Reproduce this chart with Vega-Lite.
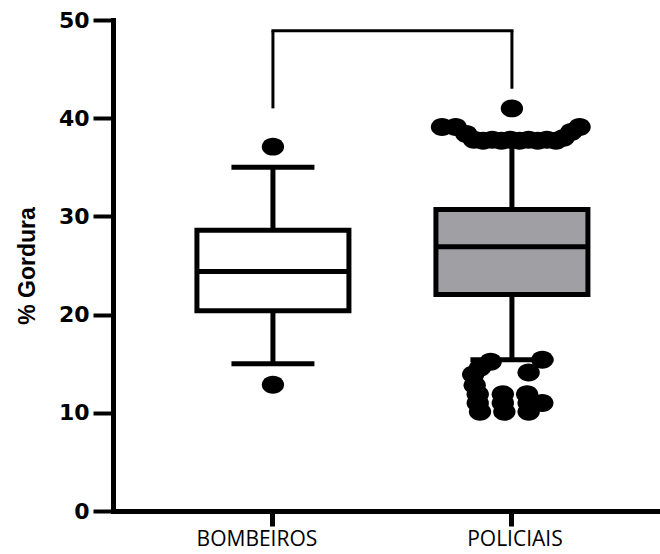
{
  "$schema": "https://vega.github.io/schema/vega-lite/v6.json",
  "width": 547,
  "height": 491,
  "autosize": {"type": "none"},
  "padding": {"left": 113, "top": 20, "right": 0, "bottom": 43},
  "background": "white",
  "config": {
    "view": {"stroke": null},
    "axis": {"grid": false, "domainColor": "black", "tickColor": "black", "labelColor": "black", "titleColor": "black"}
  },
  "datasets": {
    "boxes": [
      {"grupo": "BOMBEIROS", "min": 15.0, "q1": 20.4, "median": 24.4, "q3": 28.6, "max": 35.0},
      {"grupo": "POLICIAIS", "min": 15.4, "q1": 22.05, "median": 26.9, "q3": 30.7, "max": 37.8}
    ],
    "outliers": [
      {"grupo": "BOMBEIROS", "valor": 37.1, "jitter": 0},
      {"grupo": "BOMBEIROS", "valor": 12.85, "jitter": 0},
      {"grupo": "POLICIAIS", "valor": 41.0, "jitter": 0},
      {"grupo": "POLICIAIS", "valor": 39.1, "jitter": -0.92},
      {"grupo": "POLICIAIS", "valor": 39.1, "jitter": -0.74},
      {"grupo": "POLICIAIS", "valor": 39.1, "jitter": 0.89},
      {"grupo": "POLICIAIS", "valor": 38.6, "jitter": 0.78},
      {"grupo": "POLICIAIS", "valor": 38.4, "jitter": -0.6},
      {"grupo": "POLICIAIS", "valor": 37.8, "jitter": -0.5},
      {"grupo": "POLICIAIS", "valor": 37.7, "jitter": -0.38},
      {"grupo": "POLICIAIS", "valor": 37.8, "jitter": -0.26},
      {"grupo": "POLICIAIS", "valor": 37.7, "jitter": -0.14},
      {"grupo": "POLICIAIS", "valor": 37.8, "jitter": -0.02},
      {"grupo": "POLICIAIS", "valor": 37.7, "jitter": 0.1},
      {"grupo": "POLICIAIS", "valor": 37.8, "jitter": 0.22},
      {"grupo": "POLICIAIS", "valor": 37.7, "jitter": 0.34},
      {"grupo": "POLICIAIS", "valor": 37.8, "jitter": 0.46},
      {"grupo": "POLICIAIS", "valor": 37.7, "jitter": 0.58},
      {"grupo": "POLICIAIS", "valor": 38.0, "jitter": 0.68},
      {"grupo": "POLICIAIS", "valor": 15.2, "jitter": -0.28},
      {"grupo": "POLICIAIS", "valor": 15.4, "jitter": 0.4},
      {"grupo": "POLICIAIS", "valor": 14.6, "jitter": -0.42},
      {"grupo": "POLICIAIS", "valor": 13.9, "jitter": -0.51},
      {"grupo": "POLICIAIS", "valor": 14.1, "jitter": 0.22},
      {"grupo": "POLICIAIS", "valor": 12.8, "jitter": -0.49},
      {"grupo": "POLICIAIS", "valor": 11.9, "jitter": -0.45},
      {"grupo": "POLICIAIS", "valor": 11.9, "jitter": -0.12},
      {"grupo": "POLICIAIS", "valor": 11.9, "jitter": 0.2},
      {"grupo": "POLICIAIS", "valor": 11.0, "jitter": -0.45},
      {"grupo": "POLICIAIS", "valor": 11.0, "jitter": -0.12},
      {"grupo": "POLICIAIS", "valor": 11.0, "jitter": 0.22},
      {"grupo": "POLICIAIS", "valor": 11.0, "jitter": 0.4},
      {"grupo": "POLICIAIS", "valor": 10.1, "jitter": -0.42},
      {"grupo": "POLICIAIS", "valor": 10.1, "jitter": -0.1},
      {"grupo": "POLICIAIS", "valor": 10.1, "jitter": 0.22}
    ],
    "bracket": [
      {"grupo": "BOMBEIROS", "baixo": 41.0, "topo": 48.9},
      {"grupo": "POLICIAIS", "baixo": 43.0, "topo": 48.9}
    ],
    "barra": [
      {"de": "BOMBEIROS", "ate": "POLICIAIS", "topo": 48.9}
    ]
  },
  "encoding": {
    "x": {
      "field": "grupo",
      "type": "nominal",
      "title": null,
      "scale": {"domain": ["BOMBEIROS", "POLICIAIS"], "paddingInner": 0.364, "paddingOuter": 0.3264, "align": 0.538},
      "axis": {
        "domainWidth": 5, "domainCap": "square", "tickWidth": 5, "tickSize": 15,
        "labelFont": "Open Sans", "labelFontSize": 21, "labelPadding": 2, "labelAngle": 0,
        "labelOffset": {"expr": "datum.value === 'BOMBEIROS' ? -16 : 3"}
      }
    }
  },
  "layer": [
    {
      "data": {"name": "boxes"},
      "mark": {"type": "rule", "color": "black", "strokeWidth": 5},
      "encoding": {
        "y": {
          "field": "min", "type": "quantitative", "title": "% Gordura",
          "scale": {"domain": [0, 50], "nice": false, "zero": true},
          "axis": {
            "values": [0, 10, 20, 30, 40, 50], "domainWidth": 5, "domainCap": "square", "tickWidth": 4, "tickSize": 20,
            "labelFont": "DejaVu Sans", "labelFontWeight": "bold", "labelFontSize": 22, "labelPadding": 4,
            "titleFont": "Liberation Sans", "titleFontWeight": "bold", "titleFontSize": 23, "titlePadding": 19
          }
        },
        "y2": {"field": "max"}
      }
    },
    {
      "data": {"name": "boxes"},
      "mark": {"type": "tick", "color": "black", "size": 83, "thickness": 5, "orient": "horizontal", "opacity": 1},
      "encoding": {"y": {"field": "min", "type": "quantitative", "title": "% Gordura"}}
    },
    {
      "data": {"name": "boxes"},
      "mark": {"type": "tick", "color": "black", "size": 83, "thickness": 5, "orient": "horizontal", "opacity": 1},
      "encoding": {"y": {"field": "max", "type": "quantitative", "title": "% Gordura"}}
    },
    {
      "data": {"name": "boxes"},
      "mark": {"type": "bar", "stroke": "black", "strokeWidth": 5, "width": 152, "opacity": 1},
      "encoding": {
        "y": {"field": "q1", "type": "quantitative", "title": "% Gordura"},
        "y2": {"field": "q3"},
        "fill": {"field": "grupo", "type": "nominal", "scale": {"domain": ["BOMBEIROS", "POLICIAIS"], "range": ["#ffffff", "#a09fa4"]}, "legend": null}
      }
    },
    {
      "data": {"name": "boxes"},
      "mark": {"type": "tick", "color": "black", "size": 152, "thickness": 5, "orient": "horizontal", "opacity": 1},
      "encoding": {"y": {"field": "median", "type": "quantitative", "title": "% Gordura"}}
    },
    {
      "data": {"name": "outliers"},
      "mark": {"type": "point", "filled": true, "color": "black", "size": 500, "opacity": 1, "strokeWidth": 0,
               "shape": "M-1,0A1,0.8,0,1,1,1,0A1,0.8,0,1,1,-1,0Z"},
      "encoding": {
        "y": {"field": "valor", "type": "quantitative", "title": "% Gordura"},
        "xOffset": {"field": "jitter", "type": "quantitative", "scale": {"domain": [-1, 1], "range": [0, 152]}}
      }
    },
    {
      "data": {"name": "bracket"},
      "mark": {"type": "rule", "color": "black", "strokeWidth": 3},
      "encoding": {
        "y": {"field": "baixo", "type": "quantitative", "title": "% Gordura"},
        "y2": {"field": "topo"}
      }
    },
    {
      "data": {"name": "barra"},
      "mark": {"type": "rule", "color": "black", "strokeWidth": 3, "strokeCap": "square"},
      "encoding": {
        "x": {"field": "de", "type": "nominal", "title": null},
        "x2": {"field": "ate"},
        "y": {"field": "topo", "type": "quantitative", "title": "% Gordura"}
      }
    }
  ]
}
